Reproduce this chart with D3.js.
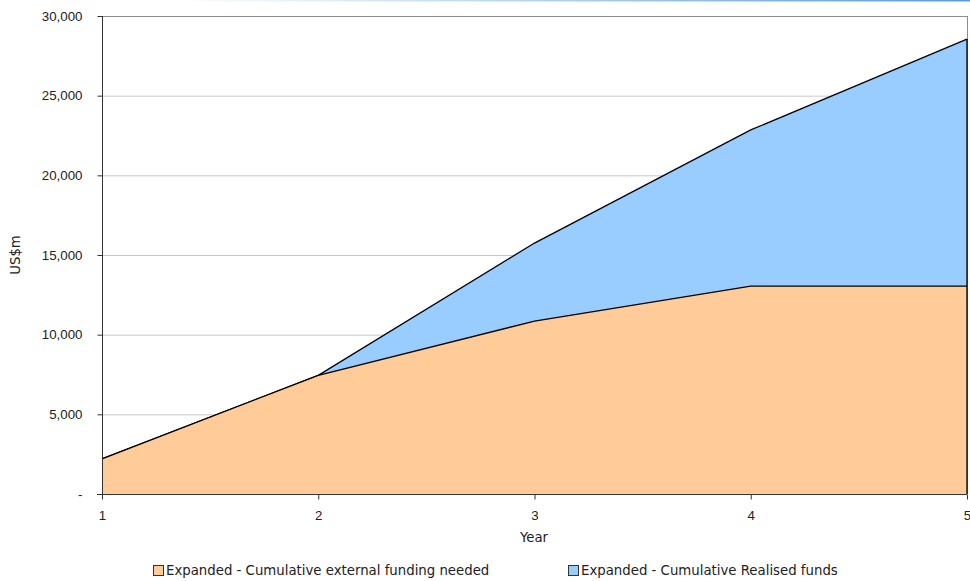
<!DOCTYPE html>
<html>
<head>
<meta charset="utf-8">
<script src="https://cdn.jsdelivr.net/npm/d3@7"></script>
<style>
  html, body { margin: 0; padding: 0; background: #fff; }
  svg { display: block; font-family: "DejaVu Sans", Verdana, sans-serif; }
</style>
</head>
<body>
<svg id="chart" width="970" height="581"></svg>
<script>
// Cumulative funding, US$m, by year
const years = [1, 2, 3, 4, 5];
const fundingNeeded = [2200, 7450, 10850, 13050, 13050];
const realisedFunds = [2200, 7450, 15750, 22850, 28550];
const yTicks = [0, 5000, 10000, 15000, 20000, 25000, 30000];
const seriesNames = [
  "Expanded - Cumulative external funding needed",
  "Expanded - Cumulative Realised funds"
];
const seriesColors = ["#ffcc99", "#99ccff"];

const svg = d3.select("#chart");
const m = { left: 102, right: 967, top: 16, bottom: 494 };
const fs = 13.3;

const x = d3.scaleLinear().domain([1, 5]).range([m.left, m.right]);
const y = d3.scaleLinear().domain([0, 30000]).range([m.bottom, m.top]);

// thin header rule fading in from the left
const defs = svg.append("defs");
const grad = defs.append("linearGradient").attr("id", "hdr").attr("x1", "0").attr("x2", "1");
grad.append("stop").attr("offset", "0").attr("stop-color", "#ffffff");
grad.append("stop").attr("offset", "0.25").attr("stop-color", "#d6e6f7");
grad.append("stop").attr("offset", "1").attr("stop-color", "#5b9bd5");
svg.append("rect").attr("x", 180).attr("y", 0).attr("width", 790).attr("height", 1.5)
  .attr("fill", "url(#hdr)");

// gridlines
svg.append("g").selectAll("line").data(yTicks.filter(d => d > 0 && d < 30000)).join("line")
  .attr("x1", m.left).attr("x2", m.right)
  .attr("y1", d => y(d) + 0.5).attr("y2", d => y(d) + 0.5)
  .attr("stroke", "#c8c8c8").attr("stroke-width", 1);

// frame top and right
svg.append("line").attr("x1", m.left).attr("x2", m.right + 1)
  .attr("y1", m.top + 0.5).attr("y2", m.top + 0.5).attr("stroke", "#8c8c8c");
svg.append("line").attr("x1", m.right + 0.5).attr("x2", m.right + 0.5)
  .attr("y1", m.top).attr("y2", m.bottom).attr("stroke", "#8c8c8c");

const area = vals => d3.area()
  .x((d, i) => x(years[i]))
  .y0(y(0))
  .y1(d => y(d))(vals);
const line = vals => d3.line()
  .x((d, i) => x(years[i]))
  .y(d => y(d))(vals);

// realised funds drawn behind, funding needed in front
[[realisedFunds, seriesColors[1]], [fundingNeeded, seriesColors[0]]].forEach(([vals, col]) => {
  svg.append("path").attr("d", area(vals)).attr("fill", col);
  svg.append("path").attr("d", line(vals)).attr("fill", "none")
    .attr("stroke", "#000").attr("stroke-width", 1.3);
});
// right edge of the filled areas
svg.append("line").attr("x1", x(5)).attr("x2", x(5))
  .attr("y1", y(realisedFunds[4])).attr("y2", y(0))
  .attr("stroke", "#000").attr("stroke-width", 1.3);

// y axis
const yAxis = d3.axisLeft(y).tickValues(yTicks).tickSize(5).tickPadding(15)
  .tickFormat(d => d === 0 ? "-" : d3.format(",")(d));
const gy = svg.append("g").attr("transform", `translate(${m.left + 0.5},0)`).call(yAxis);
gy.select(".domain").attr("stroke", "#333").attr("d", `M0,${m.top}V${m.bottom}`);
gy.selectAll(".tick line").attr("stroke", "#333");
gy.selectAll("text").attr("font-size", fs).attr("fill", "#222");

// x axis
const xAxis = d3.axisBottom(x).tickValues(years).tickSize(5).tickPadding(11).tickFormat(d3.format("d"));
const gx = svg.append("g").attr("transform", `translate(0,${m.bottom + 0.5})`).call(xAxis);
gx.select(".domain").attr("stroke", "#333").attr("d", `M${m.left - 5},0H${m.right}`);
gx.selectAll(".tick line").attr("stroke", "#333");
gx.selectAll("text").attr("font-size", fs).attr("fill", "#222");

// axis titles
svg.append("text").attr("x", 534).attr("y", 542).attr("text-anchor", "middle")
  .attr("font-size", fs).attr("fill", "#222").text("Year");
svg.append("text").attr("transform", "translate(20,255) rotate(-90)").attr("text-anchor", "middle")
  .attr("font-size", fs).attr("fill", "#222").text("US$m");

// legend
const legendX = [153, 568];
seriesNames.forEach((name, i) => {
  const g = svg.append("g").attr("transform", `translate(${legendX[i]},565)`);
  g.append("rect").attr("x", 0.5).attr("y", 0.5).attr("width", 10).attr("height", 10)
    .attr("fill", seriesColors[i]).attr("stroke", "#333");
  g.append("text").attr("x", 13).attr("y", 10).attr("font-size", fs).attr("fill", "#222").text(name);
});
</script>
</body>
</html>
